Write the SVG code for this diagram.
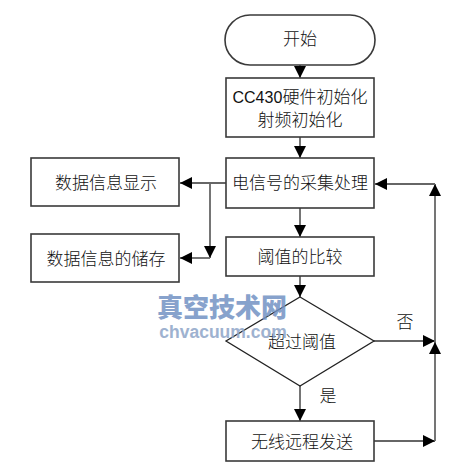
<svg xmlns="http://www.w3.org/2000/svg" width="468" height="468" viewBox="0 0 468 468">
<style>
.box{fill:#fff;stroke:#3a3a3a;stroke-width:1.6}
.dia{fill:#fff;stroke:#222;stroke-width:1.3}
.lbl{font-family:"Noto Sans CJK SC","Liberation Sans",sans-serif;font-size:17px;fill:#111;text-anchor:middle;font-weight:300}
.ln{fill:none;stroke:#666;stroke-width:1.8}
.wm1{font-family:"Noto Sans CJK SC",sans-serif;font-size:26px;font-weight:900;fill:#7392c4;text-anchor:middle;opacity:0.85}
.wm2{font-family:"Liberation Sans",sans-serif;font-size:17.5px;font-weight:bold;fill:#8ea5c8;text-anchor:middle;opacity:0.85}
</style>
<defs>
<marker id="ah" markerUnits="userSpaceOnUse" markerWidth="13" markerHeight="13" refX="12" refY="6.5" orient="auto" viewBox="0 0 13 13">
<path d="M0,0.5 L12,6.5 L0,12.5 z" fill="#000"/>
</marker>
</defs>
<rect width="468" height="468" fill="#fff"/>
<g id="connectors">
<path class="ln" d="M300 65 V78" marker-end="url(#ah)"/>
<path class="ln" d="M300 137 V158" marker-end="url(#ah)"/>
<path class="ln" d="M226 183 H180" marker-end="url(#ah)"/>
<path class="ln" d="M210 183 V258" marker-end="url(#ah)"/>
<path class="ln" d="M210 258 H180" marker-end="url(#ah)"/>
<path class="ln" d="M300 208 V237" marker-end="url(#ah)"/>
<path class="ln" d="M300 276 V297" marker-end="url(#ah)"/>
<path class="ln" d="M374 341 H435" marker-end="url(#ah)"/>
<path class="ln" d="M300 386 V421" marker-end="url(#ah)"/>
<path class="ln" d="M374 441 H435" marker-end="url(#ah)"/>
<path class="ln" d="M435 441 V342" marker-end="url(#ah)"/>
<path class="ln" d="M435 342 V184" marker-end="url(#ah)"/>
<path class="ln" d="M435 184 H375" marker-end="url(#ah)"/>
<text class="lbl" x="405" y="328">否</text>
<text class="lbl" x="328" y="402">是</text>
</g>
<g id="start"><rect class="box" x="225" y="15" width="150" height="50" rx="25" ry="25"/><text class="lbl" x="300" y="45">开始</text></g>
<g id="init"><rect class="box" x="226" y="78" width="148" height="59"/><text x="232.5" y="103" font-family="Liberation Sans, sans-serif" font-size="16" fill="#111">CC430</text><text class="lbl" x="282.5" y="103" style="text-anchor:start">硬件初始化</text><text class="lbl" x="300" y="125.5">射频初始化</text></g>
<g id="acquire"><rect class="box" x="226" y="158" width="148" height="50"/><text class="lbl" x="300" y="189">电信号的采集处理</text></g>
<g id="display"><rect class="box" x="31" y="158" width="148" height="48"/><text class="lbl" x="106" y="189">数据信息显示</text></g>
<g id="store"><rect class="box" x="31" y="234" width="148" height="48"/><text class="lbl" x="106" y="265">数据信息的储存</text></g>
<g id="compare"><rect class="box" x="226" y="237" width="148" height="39"/><text class="lbl" x="300" y="263">阈值的比较</text></g>
<g id="decision"><path class="dia" d="M300 297 L374 341 L300 386 L226 341 Z"/><text class="lbl" x="302" y="348">超过阈值</text></g>
<g id="send"><rect class="box" x="226" y="421" width="148" height="40"/><text class="lbl" x="302" y="448">无线远程发送</text></g>
<g id="watermark"><text class="wm1" x="222" y="317">真空技术网</text><text class="wm2" x="223" y="338">chvacuum.com</text></g>
</svg>
